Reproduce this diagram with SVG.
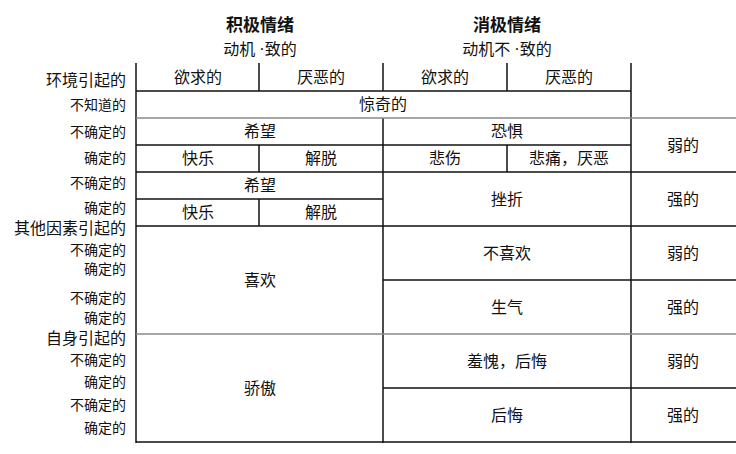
<svg xmlns="http://www.w3.org/2000/svg" width="736" height="454" viewBox="0 0 736 454">
<style>
text{font-family:"Liberation Serif","Noto Sans CJK SC",serif;font-size:16px;fill:#111}
.c{text-anchor:middle}
.r{text-anchor:end;font-size:14px}
.h{font-weight:bold;font-size:17px}
line{stroke:#111;stroke-width:1.5}
.g{stroke:#888}
</style>
<rect width="736" height="454" fill="#fff"/>
<g id="headers">
<text class="c h" x="260" y="31">积极情绪</text>
<text class="c" x="260" y="55">动机 ·致的</text>
<text class="c h" x="507" y="31">消极情绪</text>
<text class="c" x="507" y="55">动机不 ·致的</text>
</g>
<g id="connectors">
<line x1="136" y1="63" x2="136" y2="443"/>
<line x1="631" y1="63" x2="631" y2="443"/>
<line x1="259" y1="63" x2="259" y2="91"/>
<line x1="383" y1="63" x2="383" y2="91"/>
<line x1="507" y1="63" x2="507" y2="91"/>
<line x1="383" y1="118" x2="383" y2="443"/>
<line x1="259" y1="145" x2="259" y2="172"/>
<line x1="507" y1="145" x2="507" y2="172"/>
<line x1="259" y1="199" x2="259" y2="226"/>
<line x1="136" y1="91" x2="631" y2="91"/>
<line class="g" x1="136" y1="118" x2="736" y2="118"/>
<line x1="136" y1="145" x2="631" y2="145"/>
<line x1="136" y1="172" x2="736" y2="172"/>
<line x1="136" y1="199" x2="383" y2="199"/>
<line x1="136" y1="226" x2="736" y2="226"/>
<line x1="383" y1="280" x2="736" y2="280"/>
<line class="g" x1="136" y1="334" x2="736" y2="334"/>
<line x1="383" y1="388" x2="736" y2="388"/>
<line x1="136" y1="442" x2="736" y2="442"/>
</g>
<g id="rowlabels">
<text class="r" x="126" y="86" style="font-size:16px">环境引起的</text>
<text class="r" x="126" y="110">不知道的</text>
<text class="r" x="126" y="137">不确定的</text>
<text class="r" x="126" y="163">确定的</text>
<text class="r" x="126" y="188">不确定的</text>
<text class="r" x="126" y="213">确定的</text>
<text class="r" x="126" y="234" style="font-size:16px">其他因素引起的</text>
<text class="r" x="126" y="255">不确定的</text>
<text class="r" x="126" y="274">确定的</text>
<text class="r" x="126" y="303">不确定的</text>
<text class="r" x="126" y="323">确定的</text>
<text class="r" x="126" y="344" style="font-size:16px">自身引起的</text>
<text class="r" x="126" y="365">不确定的</text>
<text class="r" x="126" y="387">确定的</text>
<text class="r" x="126" y="410">不确定的</text>
<text class="r" x="126" y="433">确定的</text>
</g>
<g id="cells">
<text class="c" x="198" y="83">欲求的</text>
<text class="c" x="321" y="83">厌恶的</text>
<text class="c" x="445" y="83">欲求的</text>
<text class="c" x="569" y="83">厌恶的</text>
<text class="c" x="383" y="110">惊奇的</text>
<text class="c" x="260" y="137">希望</text>
<text class="c" x="507" y="137">恐惧</text>
<text class="c" x="198" y="164">快乐</text>
<text class="c" x="321" y="164">解脱</text>
<text class="c" x="445" y="164">悲伤</text>
<text class="c" x="569" y="164">悲痛，厌恶</text>
<text class="c" x="683" y="151">弱的</text>
<text class="c" x="260" y="191">希望</text>
<text class="c" x="198" y="218">快乐</text>
<text class="c" x="321" y="218">解脱</text>
<text class="c" x="507" y="205">挫折</text>
<text class="c" x="683" y="205">强的</text>
<text class="c" x="260" y="286">喜欢</text>
<text class="c" x="507" y="259">不喜欢</text>
<text class="c" x="683" y="259">弱的</text>
<text class="c" x="507" y="313">生气</text>
<text class="c" x="683" y="313">强的</text>
<text class="c" x="260" y="394">骄傲</text>
<text class="c" x="507" y="367">羞愧，后悔</text>
<text class="c" x="683" y="367">弱的</text>
<text class="c" x="507" y="421">后悔</text>
<text class="c" x="683" y="421">强的</text>
</g>
</svg>
